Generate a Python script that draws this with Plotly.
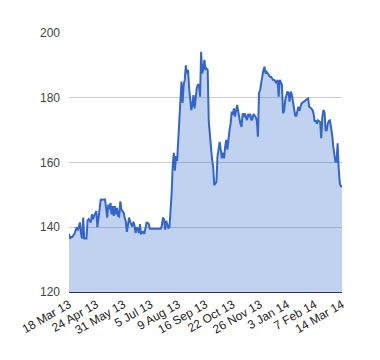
import plotly.graph_objects as go

values = [
    138, 136.5, 137, 137, 137.5, 138, 139, 140, 139, 140.5,
    141.5, 138, 136.5, 143, 136.5, 136.5, 136.5, 142, 142.5, 142,
    141.5, 144, 142.5, 143.5, 144.5, 145, 140, 144, 145.5, 148.5,
    148.6, 148.6, 148.6, 148.6, 145.5, 143, 147, 145.5, 147.5, 144,
    146.5, 143.5, 146.5, 144, 146, 143.5, 143.3, 148, 145.5, 145,
    144.5, 143, 141.7, 138.6, 141, 143, 141.7, 141, 140.2, 141.7,
    140.5, 138.2, 140, 139.5, 138.2, 141, 137.8, 138.5, 138.6, 138,
    140, 141.4, 141.4, 141, 139.5, 139.5, 139.5, 139.5, 139.5, 139.5,
    139.5, 139.5, 139.5, 139.5, 139.5, 140.5, 143, 142.5, 139.3, 142,
    141, 139.8, 140, 144, 150.5, 159, 163, 157.5, 162, 160.5,
    167, 174, 181, 185, 178.4, 184, 185.5, 190, 187.5, 188.6,
    183, 180.3, 176.2, 178, 180.8, 176.7, 181.4, 183, 184, 184,
    180.3, 194.2, 187.5, 189, 191.7, 188.6, 189, 188.6, 172.6, 168,
    164, 161, 158.7, 153, 153.5, 154, 162, 164.9, 166.4, 163.9,
    161.3, 163, 161.3, 165, 167, 164, 168, 170, 172, 175.7,
    174.7, 176.7, 174.2, 176, 177.8, 175.7, 173.1, 172, 171, 175.2,
    174, 175.2, 174, 173.1, 175, 174, 175, 173, 173.5, 175,
    174.5, 174, 173, 168, 181.4, 182.4, 184.5, 187, 188.5, 189.6,
    187.5, 188, 187.5, 187, 186.5, 186.5, 186, 185.5, 185.5, 185,
    184.5, 185.5, 180.3, 185.5, 184.5, 184, 175.2, 176, 179.3, 180.5,
    181.9, 181.5, 178.8, 181.9, 181, 179, 176, 174.7, 174.2, 176,
    177.2, 176, 177.5, 178.3, 178.5, 178.8, 179.3, 179.5, 179.6, 179.8,
    177.2, 177, 176.5, 176.2, 175, 172.6, 173, 172, 173, 172.6,
    172.5, 167.5, 174.2, 176.2, 175.5, 170, 170, 172, 172.9, 173,
    171, 168.5, 164.9, 162, 160.2, 160.2, 165.9, 158, 153.6, 152.5,
    153,
]

tick_labels = ["18 Mar 13", "24 Apr 13", "31 May 13", "5 Jul 13", "9 Aug 13",
               "16 Sep 13", "22 Oct 13", "26 Nov 13", "3 Jan 14", "7 Feb 14",
               "14 Mar 14"]
tick_step = 25
y_ticks = [120, 140, 160, 180, 200]

x = list(range(len(values)))
tick_pos = [i * tick_step for i in range(len(tick_labels))]

fig = go.Figure()
fig.add_trace(go.Scatter(
    x=x, y=values, mode="lines",
    line=dict(color="#3366CC", width=2),
    fill="tozeroy", fillcolor="rgba(51,102,204,0.3)",
    hoverinfo="skip",
))

fig.update_layout(
    width=380, height=360,
    margin=dict(l=61, r=46, t=25, b=76),
    paper_bgcolor="white", plot_bgcolor="white",
    showlegend=False,
    font=dict(family="Liberation Sans, Arial, sans-serif", size=12, color="#222"),
    xaxis=dict(
        range=[0, len(values) - 1],
        tickmode="array", tickvals=tick_pos, ticktext=tick_labels,
        tickangle=-30, showgrid=False, zeroline=False,
        showline=True, linecolor="#333", linewidth=1,
        ticks="", tickfont=dict(size=12, color="#222"),
    ),
    yaxis=dict(
        range=[120, 200], tickvals=y_ticks,
        showgrid=True, gridcolor="#CCCCCC", gridwidth=1,
        zeroline=False, showline=False, ticks="",
        ticklabelstandoff=8,
        tickfont=dict(size=12, color="#444"),
    ),
)

fig.write_html("out.html")
